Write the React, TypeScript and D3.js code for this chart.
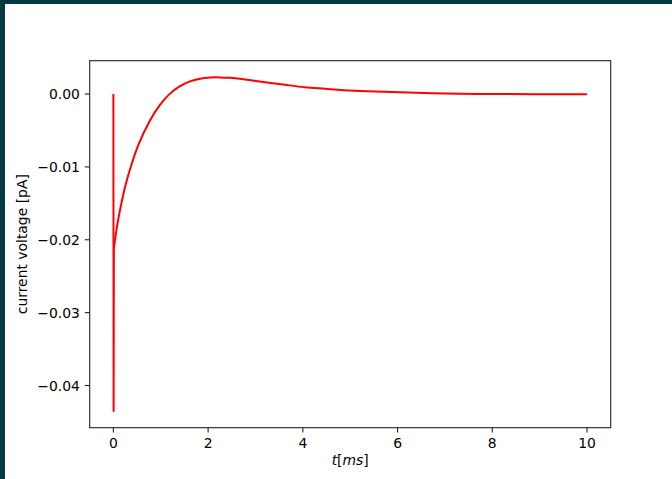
import React from "react";
import * as d3 from "d3";

// Simulated membrane current trace
const timeMs = [0, 0.005, 0.01, 0.055, 0.1, 0.245, 0.386, 0.526, 0.773, 0.984, 1.195, 1.406, 1.617, 1.83, 2.04, 2.25, 2.46, 2.78, 3.2, 3.62, 4.04, 4.47, 4.85, 5.35, 6.05, 7.0, 8.0, 9.0, 10.0];
const currentPA = [0, -0.0435, -0.0212, -0.0191, -0.0173, -0.0128, -0.0096, -0.007, -0.00363, -0.0015, 0.00005, 0.00108, 0.00174, 0.0021, 0.00226, 0.00228, 0.00222, 0.00199, 0.00162, 0.00126, 0.00093, 0.00071, 0.00052, 0.00036, 0.00023, 0.00007, 0.0, -0.00003, -0.00004];

const xTicks = [0, 2, 4, 6, 8, 10];
const yTicks = [0, -0.01, -0.02, -0.03, -0.04];

const W = 672;
const H = 479;
const plot = { left: 89.7, right: 610.7, top: 60.7, bottom: 427.7 };
const FONT = "'DejaVu Sans', sans-serif";
const FS = 13.9;

export default function App() {
  const xMin = d3.min(timeMs)!;
  const xMax = d3.max(timeMs)!;
  const yMin = d3.min(currentPA)!;
  const yMax = d3.max(currentPA)!;
  const xPad = (xMax - xMin) * 0.05;
  const yPad = (yMax - yMin) * 0.05;

  const x = d3.scaleLinear().domain([xMin - xPad, xMax + xPad]).range([plot.left, plot.right]);
  const y = d3.scaleLinear().domain([yMin - yPad, yMax + yPad]).range([plot.bottom, plot.top]);

  const pts = timeMs.map((t, i) => [t, currentPA[i]] as [number, number]);
  // stimulus artefact as straight segments, relaxation as a smooth curve
  const spikePts = pts.slice(0, 3);
  const relaxPts = pts.slice(2);
  const straight = d3
    .line<[number, number]>()
    .x((d) => x(d[0]))
    .y((d) => y(d[1]));
  const smooth = d3
    .line<[number, number]>()
    .x((d) => x(d[0]))
    .y((d) => y(d[1]))
    .curve(d3.curveCatmullRom.alpha(0.5));

  const fmtY = d3.format(".2f");
  const tickLen = 4.9;
  const spine = "#222";

  return (
    <svg
      width={W}
      height={H}
      viewBox={`0 0 ${W} ${H}`}
      style={{ position: "absolute", left: 0, top: 0, background: "#fff" }}
      fontFamily={FONT}
    >
      <rect x={0} y={0} width={W} height={H} fill="#fff" />
      {/* frame */}
      <rect x={0} y={0} width={W} height={4} fill="#013b3f" />
      <rect x={0} y={0} width={5} height={H} fill="#013b3f" />

      {/* data line */}
      <g fill="none" stroke="#ff0000" strokeWidth={2} strokeLinejoin="round">
        <path d={straight(spikePts) ?? ""} />
        <path d={smooth(relaxPts) ?? ""} />
      </g>

      {/* spines */}
      <rect
        x={plot.left}
        y={plot.top}
        width={plot.right - plot.left}
        height={plot.bottom - plot.top}
        fill="none"
        stroke={spine}
        strokeWidth={1.1}
      />

      {/* x ticks */}
      {xTicks.map((t) => (
        <g key={`xt${t}`}>
          <line x1={x(t)} x2={x(t)} y1={plot.bottom} y2={plot.bottom + tickLen} stroke={spine} strokeWidth={1.1} />
          <text x={x(t)} y={447.5} fontSize={FS} textAnchor="middle" fill="#000">
            {t}
          </text>
        </g>
      ))}

      {/* y ticks */}
      {yTicks.map((t) => (
        <g key={`yt${t}`}>
          <line x1={plot.left - tickLen} x2={plot.left} y1={y(t)} y2={y(t)} stroke={spine} strokeWidth={1.1} />
          <text x={plot.left - tickLen - 4.9} y={y(t)} dy="0.36em" fontSize={FS} textAnchor="end" fill="#000">
            {fmtY(t)}
          </text>
        </g>
      ))}

      {/* axis labels */}
      <text x={(plot.left + plot.right) / 2} y={464.5} fontSize={FS} textAnchor="middle" fill="#000">
        <tspan fontStyle="italic">t</tspan>
        <tspan>[</tspan>
        <tspan fontStyle="italic">ms</tspan>
        <tspan>]</tspan>
      </text>
      <text
        transform={`translate(26.5, ${(plot.top + plot.bottom) / 2}) rotate(-90)`}
        fontSize={FS}
        textAnchor="middle"
        fill="#000"
      >
        current voltage [pA]
      </text>
    </svg>
  );
}
